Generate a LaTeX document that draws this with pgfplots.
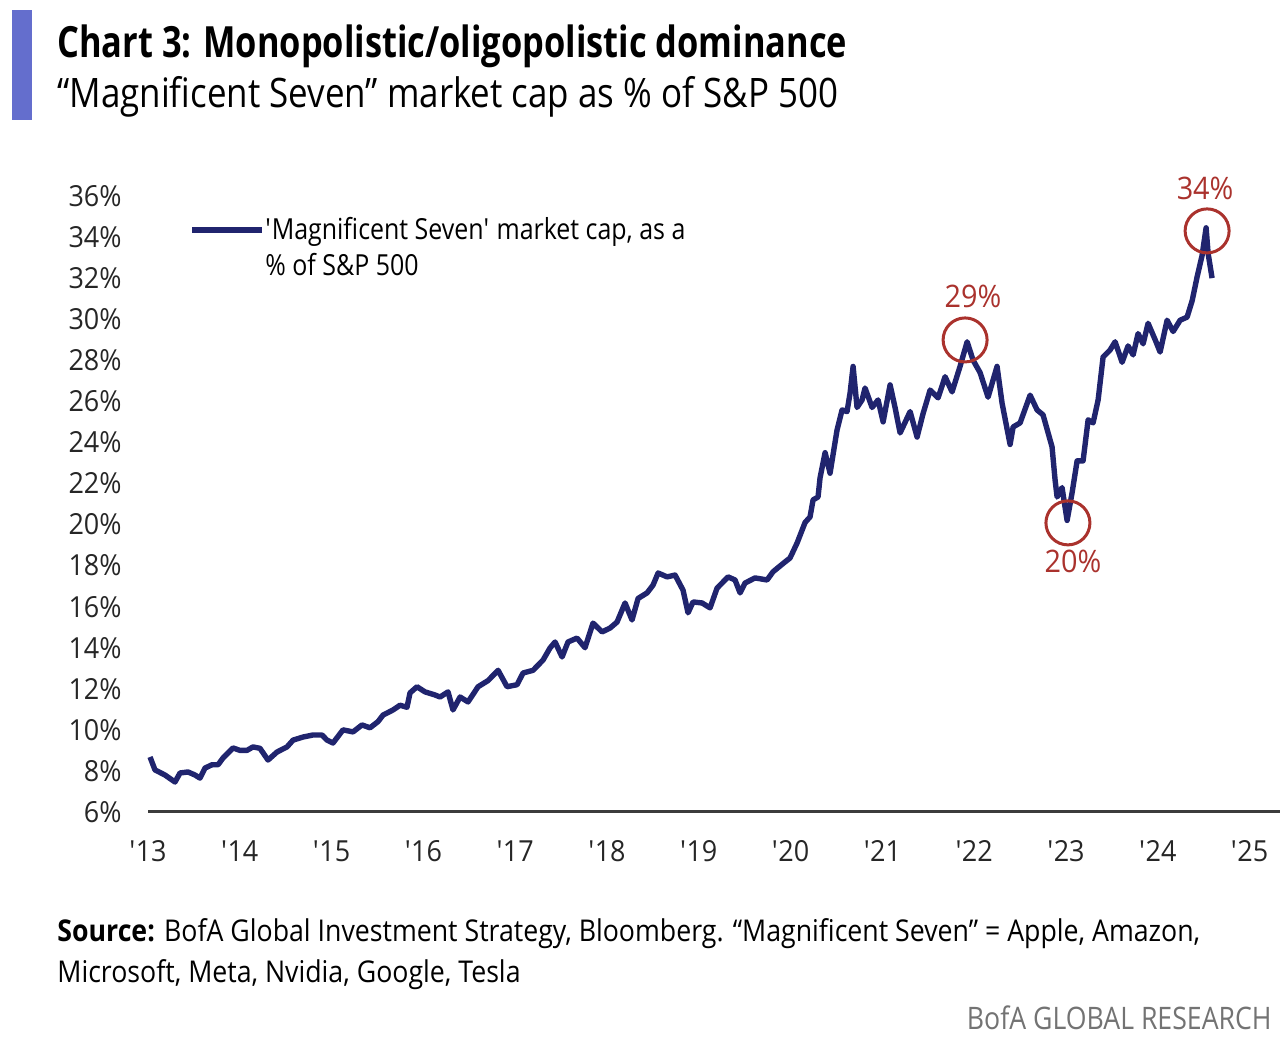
\documentclass[border=0pt]{standalone}
\usepackage{fontspec}
\setmainfont{Open Sans}
\newfontfamily\fA{Open Sans}[FakeStretch=0.8]
\newfontfamily\fB{Open Sans}[FakeStretch=0.86]
\newfontfamily\fC{Open Sans}[FakeStretch=0.89]
\newfontfamily\fD{Open Sans}[FakeStretch=0.93]
\usepackage{pgfplots}
\pgfplotsset{compat=1.18}
\definecolor{navy}{RGB}{32,36,110}
\definecolor{anno}{RGB}{170,50,45}
\definecolor{barblue}{RGB}{100,110,205}
\definecolor{axgray}{RGB}{60,60,60}
\pgfplotstableread{
x y
2013.022 8.68
2013.076 8.05
2013.185 7.80
2013.294 7.46
2013.349 7.90
2013.436 7.95
2013.512 7.80
2013.566 7.65
2013.621 8.14
2013.697 8.30
2013.763 8.30
2013.817 8.63
2013.926 9.12
2014.002 9.00
2014.078 9.00
2014.144 9.17
2014.220 9.10
2014.307 8.53
2014.405 8.92
2014.514 9.17
2014.580 9.50
2014.688 9.65
2014.797 9.75
2014.895 9.75
2014.950 9.50
2015.015 9.36
2015.124 10.00
2015.233 9.90
2015.331 10.24
2015.418 10.10
2015.505 10.40
2015.560 10.72
2015.669 10.97
2015.745 11.20
2015.821 11.10
2015.854 11.80
2015.930 12.10
2016.017 11.85
2016.126 11.70
2016.181 11.60
2016.268 11.85
2016.322 10.97
2016.399 11.60
2016.486 11.36
2016.595 12.10
2016.704 12.40
2016.813 12.90
2016.911 12.10
2017.020 12.20
2017.085 12.77
2017.194 12.90
2017.303 13.40
2017.379 13.99
2017.434 14.28
2017.510 13.55
2017.575 14.28
2017.673 14.47
2017.760 14.00
2017.847 15.20
2017.946 14.77
2018.033 14.96
2018.109 15.25
2018.196 16.18
2018.272 15.35
2018.338 16.40
2018.436 16.67
2018.501 17.05
2018.556 17.64
2018.654 17.45
2018.741 17.54
2018.828 16.80
2018.882 15.70
2018.937 16.23
2019.035 16.18
2019.122 15.94
2019.198 16.90
2019.318 17.45
2019.394 17.30
2019.449 16.67
2019.503 17.15
2019.612 17.40
2019.743 17.30
2019.808 17.70
2019.917 18.10
2019.993 18.37
2020.070 19.10
2020.157 20.10
2020.211 20.37
2020.244 21.20
2020.298 21.34
2020.320 22.27
2020.375 23.50
2020.429 22.50
2020.505 24.60
2020.560 25.58
2020.614 25.50
2020.647 26.40
2020.680 27.70
2020.723 25.70
2020.778 26.07
2020.810 26.65
2020.887 25.70
2020.952 26.07
2021.007 25.00
2021.083 26.80
2021.137 25.70
2021.192 24.46
2021.301 25.50
2021.377 24.26
2021.442 25.40
2021.519 26.55
2021.606 26.17
2021.682 27.20
2021.758 26.46
2021.845 27.70
2021.922 28.90
2021.987 28.00
2022.063 27.40
2022.150 26.20
2022.248 27.70
2022.303 25.90
2022.390 23.90
2022.423 24.75
2022.499 24.95
2022.608 26.30
2022.684 25.58
2022.749 25.34
2022.847 23.78
2022.880 22.17
2022.902 21.34
2022.956 21.80
2023.011 20.20
2023.065 21.54
2023.120 23.10
2023.185 23.10
2023.240 25.10
2023.294 24.95
2023.349 26.07
2023.403 28.16
2023.479 28.50
2023.534 28.90
2023.610 27.90
2023.675 28.70
2023.730 28.26
2023.784 29.30
2023.839 28.80
2023.893 29.80
2023.970 29.00
2024.024 28.40
2024.100 29.95
2024.166 29.40
2024.242 29.95
2024.318 30.10
2024.373 30.90
2024.427 32.06
2024.481 33.10
2024.525 34.45
2024.547 33.20
2024.590 32.00
}\magseven
\begin{document}
\begin{tikzpicture}
\path[use as bounding box] (0,0) rectangle (641.5pt,518.5pt);
\fill[barblue] (6pt,458.5pt) rectangle (16pt,513.5pt);
\node[anchor=base west, inner sep=0pt] at (28.5pt,489.5pt) {\fA\bfseries\fontsize{21.5}{25}\selectfont Chart 3: Monopolistic/oligopolistic dominance};
\node[anchor=base west, inner sep=0pt] at (28.5pt,464.5pt) {\fB\fontsize{20.3}{24}\selectfont “Magnificent Seven” market cap as \% of S\&P 500};
\begin{axis}[
  at={(74pt,112.5pt)}, anchor=south west, scale only axis,
  width=566pt, height=308pt,
  xmin=2013, xmax=2025.33, ymin=6, ymax=36,
  axis x line*=bottom, axis y line*=left,
  y axis line style={draw=none},
  x axis line style={axgray, line width=1.5pt},
  major tick length=0pt,
  xtick={2013,...,2025},
  xticklabels={\textquotesingle13,\textquotesingle14,\textquotesingle15,\textquotesingle16,\textquotesingle17,\textquotesingle18,\textquotesingle19,\textquotesingle20,\textquotesingle21,\textquotesingle22,\textquotesingle23,\textquotesingle24,\textquotesingle25},
  ytick={6,8,...,36},
  yticklabel={\pgfmathprintnumber{\tick}\%},
  /pgf/number format/assume math mode=true,
  tick label style={font=\fD\fontsize{14.5}{16}\selectfont, text=black!85, inner sep=0pt},
  xticklabel shift=14pt,
  yticklabel shift=13pt,
  clip=false,
]
\addplot[navy, line width=2.7pt, line join=round] table[x=x,y=y] {\magseven};
\draw[anno, line width=1.5pt] (axis cs:2024.536,34.30) circle[radius=11pt];
\draw[anno, line width=1.5pt] (axis cs:2021.90,28.99) circle[radius=11pt];
\draw[anno, line width=1.5pt] (axis cs:2023.02,20.08) circle[radius=11pt];
\node[anno, font=\fD\fontsize{15.5}{17}\selectfont] at (axis cs:2024.514,36.39) {34\%};
\node[anno, font=\fD\fontsize{15.5}{17}\selectfont] at (axis cs:2021.987,31.13) {29\%};
\node[anno, font=\fD\fontsize{15.5}{17}\selectfont] at (axis cs:2023.076,18.18) {20\%};
\end{axis}
\draw[navy, line width=2.7pt] (96pt,403.5pt) -- (131pt,403.5pt);
\node[anchor=base west, inner sep=0pt] at (132.5pt,398.5pt) {\fB\fontsize{14.5}{17}\selectfont \textquotesingle Magnificent Seven\textquotesingle{} market cap, as a};
\node[anchor=base west, inner sep=0pt] at (132.5pt,380.5pt) {\fB\fontsize{14.5}{17}\selectfont \% of S\&P 500};
\node[anchor=base west, inner sep=0pt] at (28.5pt,47.5pt) {\fC\fontsize{15}{18}\selectfont \textbf{Source:} BofA Global Investment Strategy, Bloomberg. “Magnificent Seven” = Apple, Amazon,};
\node[anchor=base west, inner sep=0pt] at (28.5pt,27pt) {\fC\fontsize{15}{18}\selectfont Microsoft, Meta, Nvidia, Google, Tesla};
\node[anchor=base east, inner sep=0pt, text=black!55] at (636pt,3.5pt) {\fB\fontsize{15.5}{18}\selectfont BofA GLOBAL RESEARCH};
\end{tikzpicture}
\end{document}
